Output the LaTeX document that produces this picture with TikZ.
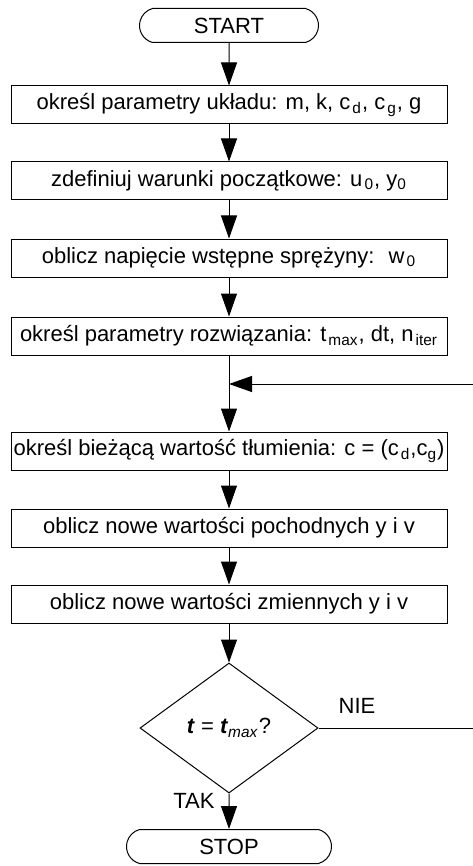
\documentclass[tikz,border=0pt]{standalone}
\usepackage{fontspec}
\setmainfont{Liberation Sans}
\usetikzlibrary{arrows.meta,shapes.geometric,shapes.misc}

\newcommand{\sbs}[1]{\kern1pt\textsubscript{#1}}

\begin{document}
\begin{tikzpicture}[
x=0.5pt, y=-0.5pt,
line width=0.5pt,
>={Triangle[length=11.5pt,width=8pt]},
every node/.style={font=\fontsize{11}{13}\selectfont},
box/.style={
		draw=black,
		minimum width=218pt,
		minimum height=19pt,
		inner sep=0pt,
		text centered,
		},
term/.style={
		draw=black,
		rounded rectangle,
		rounded rectangle arc length=150,
		minimum height=17pt,
		inner sep=0pt,
		},
decision/.style={
		draw=black,
		diamond,
		aspect=1.37,
		minimum width=89pt,
		minimum height=65pt,
		inner sep=0pt,
		}
]
\useasboundingbox (0,0) rectangle (472,866);

\def \xc {229}

\node[term, minimum width=89.5pt] (start) at (\xc,25.5) {START};
\node[box] (b1) at (\xc,105) {określ parametry układu: m, k, c\sbs{d}, c\sbs{g}, g};
\node[box] (b2) at (\xc,181) {zdefiniuj warunki początkowe: u\sbs{0}, y\textsubscript{0}};
\node[box] (b3) at (\xc,258) {oblicz napięcie wstępne sprężyny: \ w\sbs{0}};
\node[box] (b4) at (\xc,336) {określ parametry rozwiązania: t\sbs{max}, dt, n\sbs{iter}};
\node[box] (b5) at (\xc,451) {określ bieżącą wartość tłumienia: c = (c\sbs{d},c\textsubscript{g})};
\node[box] (b6) at (\xc,528) {oblicz nowe wartości pochodnych y i v};
\node[box] (b7) at (\xc,604) {oblicz nowe wartości zmiennych y i v};
\node[decision] (dec) at (\xc,728) {\textbf{\textit{t}} = \textbf{\textit{t}}\textsubscript{\textit{max}}?};
\node[term, minimum width=102.5pt] (stop) at (\xc,846.5) {STOP};

\coordinate (join) at (\xc,384);
\coordinate (back) at (474,728);

\foreach \a/\b in {start/b1,b1/b2,b2/b3,b3/b4,b4/b5,b5/b6,b6/b7,b7/dec,dec/stop}
  \draw[->] (\a) -- (\b);

% petla powrotna
\draw[->] (dec.east) -- (back) |- (join);
\node (nie) at (357,706) {NIE};
\node (tak) at (194,801) {TAK};

\end{tikzpicture}
\end{document}
